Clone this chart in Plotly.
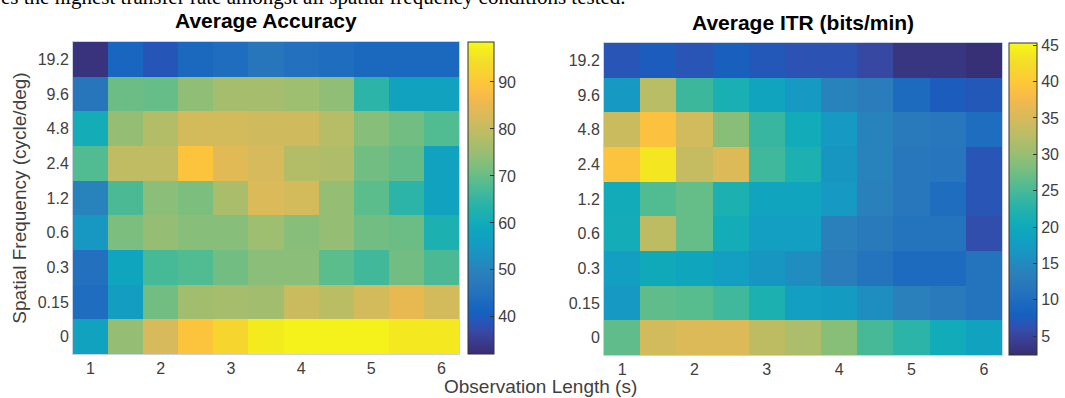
import plotly.graph_objects as go

# ---------------- data ----------------
obs_length = [1, 1.5, 2, 2.5, 3, 3.5, 4, 4.5, 5, 5.5, 6]
spatial_freq = ["0", "0.15", "0.3", "0.6", "1.2", "2.4", "4.8", "9.6", "19.2"]
x_ticks = [1, 2, 3, 4, 5, 6]

# rows ordered bottom (0) -> top (19.2)
accuracy = [
    [57, 74.5, 82.5, 89, 92.5, 96.5, 97.5, 97.5, 97.5, 96, 96],
    [44, 56, 71, 76, 76.5, 76, 81, 79, 82, 85, 82],
    [45, 58, 67, 68, 71, 73.5, 73.5, 69, 66.5, 71, 67.5],
    [54.5, 72, 74.5, 73, 73, 75.5, 73, 74.5, 71, 70.5, 62],
    [50, 67.5, 73.5, 72, 77, 83, 82, 74.5, 69, 64, 57],
    [68, 79.5, 79.5, 89, 84, 82.5, 78, 77.5, 71, 69.5, 57],
    [60.5, 74.5, 78, 82, 82, 81.5, 81.5, 78.5, 73, 71, 68],
    [46.5, 70.5, 70, 74, 76.5, 76.5, 75.5, 74, 64, 57, 57],
    [33, 42, 39, 43, 44, 46.5, 45, 44, 43, 43, 43],
]

itr = [
    [26.5, 34.5, 35.5, 35.5, 33, 31.5, 29, 25, 23, 20.4, 18.5],
    [17, 26.5, 26, 24.5, 21.7, 18, 17.3, 15.5, 13.5, 12.5, 11],
    [18, 20, 19.5, 18, 16.5, 15.3, 13, 11, 9.8, 9.8, 11],
    [20.8, 33, 26.8, 20.8, 18, 18, 13.5, 12.5, 11, 11, 6],
    [20.4, 25.6, 26.8, 21.7, 19, 19, 17, 13.5, 12, 10, 6.7],
    [39.3, 43.6, 33.5, 35.5, 24.5, 21.7, 16.5, 14, 12, 11.5, 6.7],
    [34, 39, 34.5, 29, 24, 20.4, 17, 14, 12.5, 12, 10],
    [17, 32.5, 24.3, 21.3, 19, 17, 14, 13, 9.7, 7.5, 7],
    [6.7, 7.5, 6.7, 7.8, 7, 6.5, 6.5, 5.4, 3.3, 3.3, 2.6],
]

acc_ticks = [40, 50, 60, 70, 80, 90]
itr_ticks = [5, 10, 15, 20, 25, 30, 35, 40, 45]

# ---------------- parula colormap ----------------
parula_rgb = [
    [0.2081, 0.1663, 0.5292], [0.2116, 0.1898, 0.5777], [0.2123, 0.2138, 0.6270],
    [0.2081, 0.2386, 0.6771], [0.1959, 0.2645, 0.7279], [0.1707, 0.2919, 0.7792],
    [0.1253, 0.3242, 0.8303], [0.0591, 0.3598, 0.8683], [0.0117, 0.3875, 0.8820],
    [0.0060, 0.4086, 0.8828], [0.0165, 0.4266, 0.8786], [0.0329, 0.4430, 0.8720],
    [0.0498, 0.4586, 0.8641], [0.0629, 0.4737, 0.8554], [0.0723, 0.4887, 0.8467],
    [0.0779, 0.5040, 0.8384], [0.0793, 0.5200, 0.8312], [0.0749, 0.5375, 0.8263],
    [0.0641, 0.5570, 0.8240], [0.0488, 0.5772, 0.8228], [0.0343, 0.5966, 0.8199],
    [0.0265, 0.6137, 0.8135], [0.0239, 0.6287, 0.8038], [0.0231, 0.6418, 0.7913],
    [0.0228, 0.6535, 0.7768], [0.0267, 0.6642, 0.7607], [0.0384, 0.6743, 0.7436],
    [0.0590, 0.6838, 0.7254], [0.0843, 0.6928, 0.7062], [0.1133, 0.7015, 0.6859],
    [0.1453, 0.7098, 0.6646], [0.1801, 0.7177, 0.6424], [0.2178, 0.7250, 0.6193],
    [0.2586, 0.7317, 0.5954], [0.3022, 0.7376, 0.5712], [0.3482, 0.7424, 0.5473],
    [0.3953, 0.7459, 0.5244], [0.4420, 0.7481, 0.5033], [0.4871, 0.7491, 0.4840],
    [0.5300, 0.7491, 0.4661], [0.5709, 0.7485, 0.4494], [0.6099, 0.7473, 0.4337],
    [0.6473, 0.7456, 0.4188], [0.6834, 0.7435, 0.4044], [0.7184, 0.7411, 0.3905],
    [0.7525, 0.7384, 0.3768], [0.7858, 0.7356, 0.3633], [0.8185, 0.7327, 0.3498],
    [0.8507, 0.7299, 0.3360], [0.8824, 0.7274, 0.3217], [0.9139, 0.7258, 0.3063],
    [0.9450, 0.7261, 0.2886], [0.9739, 0.7314, 0.2666], [0.9938, 0.7455, 0.2403],
    [0.9990, 0.7653, 0.2164], [0.9955, 0.7861, 0.1967], [0.9880, 0.8066, 0.1794],
    [0.9789, 0.8271, 0.1633], [0.9697, 0.8481, 0.1475], [0.9626, 0.8705, 0.1309],
    [0.9589, 0.8949, 0.1132], [0.9598, 0.9218, 0.0948], [0.9661, 0.9514, 0.0755],
    [0.9763, 0.9831, 0.0538],
]


def washed(rgb, t):
    # the reference print is slightly washed out in the blue range
    r, g, b = (c * 255 for c in rgb)
    lum = 0.3 * r + 0.59 * g + 0.11 * b
    if t <= 0.25:
        k = 0.25
    elif t >= 0.42:
        k = 0.04
    else:
        k = 0.25 - (t - 0.25) / 0.17 * 0.21
    return tuple(round((1 - k) * c + k * lum) for c in (r, g, b))


n = len(parula_rgb)
parula = []
for i, rgb in enumerate(parula_rgb):
    t = i / (n - 1)
    parula.append([t, "rgb(%d,%d,%d)" % washed(rgb, t)])

FONT = "Liberation Sans"
TICK_COLOR = "#404040"
W, H = 1065, 398


def px_x(p):
    return p / W


def px_y(p):
    return 1 - p / H


fig = go.Figure()

fig.add_trace(go.Heatmap(
    x=obs_length, y=spatial_freq, z=accuracy,
    colorscale=parula, zmin=32.1, zmax=98.5,
    xaxis="x", yaxis="y",
    colorbar=dict(
        x=px_x(468), xanchor="left", xref="paper",
        y=px_y(198), yanchor="middle",
        thickness=26, thicknessmode="pixels",
        len=312, lenmode="pixels",
        tickvals=acc_ticks, ticks="inside", ticklen=4, tickcolor="#333333",
        tickfont=dict(family=FONT, size=16, color=TICK_COLOR),
        outlinecolor="#333333", outlinewidth=1, ypad=0, xpad=0,
    ),
))

fig.add_trace(go.Heatmap(
    x=obs_length, y=spatial_freq, z=itr,
    colorscale=parula, zmin=2.4, zmax=45.3,
    xaxis="x2", yaxis="y2",
    colorbar=dict(
        x=px_x(1009), xanchor="left", xref="paper",
        y=px_y(199), yanchor="middle",
        thickness=28, thicknessmode="pixels",
        len=312, lenmode="pixels",
        tickvals=itr_ticks, ticks="inside", ticklen=4, tickcolor="#333333",
        tickfont=dict(family=FONT, size=16, color=TICK_COLOR),
        outlinecolor="#333333", outlinewidth=1, ypad=0, xpad=0,
    ),
))

axis_common = dict(
    showgrid=False, zeroline=False, ticks="",
    tickfont=dict(family=FONT, size=16, color=TICK_COLOR),
    showline=True, linecolor="#c8d4e4", linewidth=1, mirror=True,
)

fig.update_layout(
    width=W, height=H,
    margin=dict(l=0, r=0, t=0, b=0, autoexpand=False),
    paper_bgcolor="white", plot_bgcolor="white",
    font=dict(family=FONT, color=TICK_COLOR),
    xaxis=dict(domain=[px_x(73), px_x(459)], range=[0.75, 6.25],
               tickvals=x_ticks, anchor="y", automargin=False, **axis_common),
    yaxis=dict(domain=[px_y(354), px_y(42)], type="category",
               range=[-0.5, 8.5], anchor="x", automargin=False,
               title=dict(text="Spatial Frequency (cycle/deg)",
                          font=dict(family=FONT, size=19, color=TICK_COLOR),
                          standoff=6),
               **axis_common),
    xaxis2=dict(domain=[px_x(604), px_x(1002)], range=[0.75, 6.25],
                tickvals=x_ticks, anchor="y2", automargin=False, **axis_common),
    yaxis2=dict(domain=[px_y(355), px_y(43)], type="category",
                range=[-0.5, 8.5], anchor="x2", automargin=False, **axis_common),
    showlegend=False,
)

annotations = [
    dict(text="es the highest transfer rate amongst all spatial frequency conditions tested.",
         x=0, xref="paper", xanchor="left", xshift=-1,
         y=1, yref="paper", yanchor="bottom", yshift=-11,
         showarrow=False,
         font=dict(family="Liberation Serif", size=21, color="black")),
    dict(text="<b>Average Accuracy</b>", x=px_x(266), xref="paper", xanchor="center",
         y=px_y(21), yref="paper", yanchor="middle", showarrow=False,
         font=dict(family=FONT, size=21, color="black")),
    dict(text="<b>Average ITR (bits/min)</b>", x=px_x(803), xref="paper", xanchor="center",
         y=px_y(22), yref="paper", yanchor="middle", showarrow=False,
         font=dict(family=FONT, size=21, color="black")),
    dict(text="Observation Length (s)", x=px_x(540), xref="paper", xanchor="center",
         y=px_y(386), yref="paper", yanchor="middle", showarrow=False,
         font=dict(family=FONT, size=19, color=TICK_COLOR)),
]
fig.update_layout(annotations=annotations)

fig.write_html("out.html",
               config={"displayModeBar": False},
               post_script="document.body.style.margin='0';document.body.style.overflow='hidden';")
